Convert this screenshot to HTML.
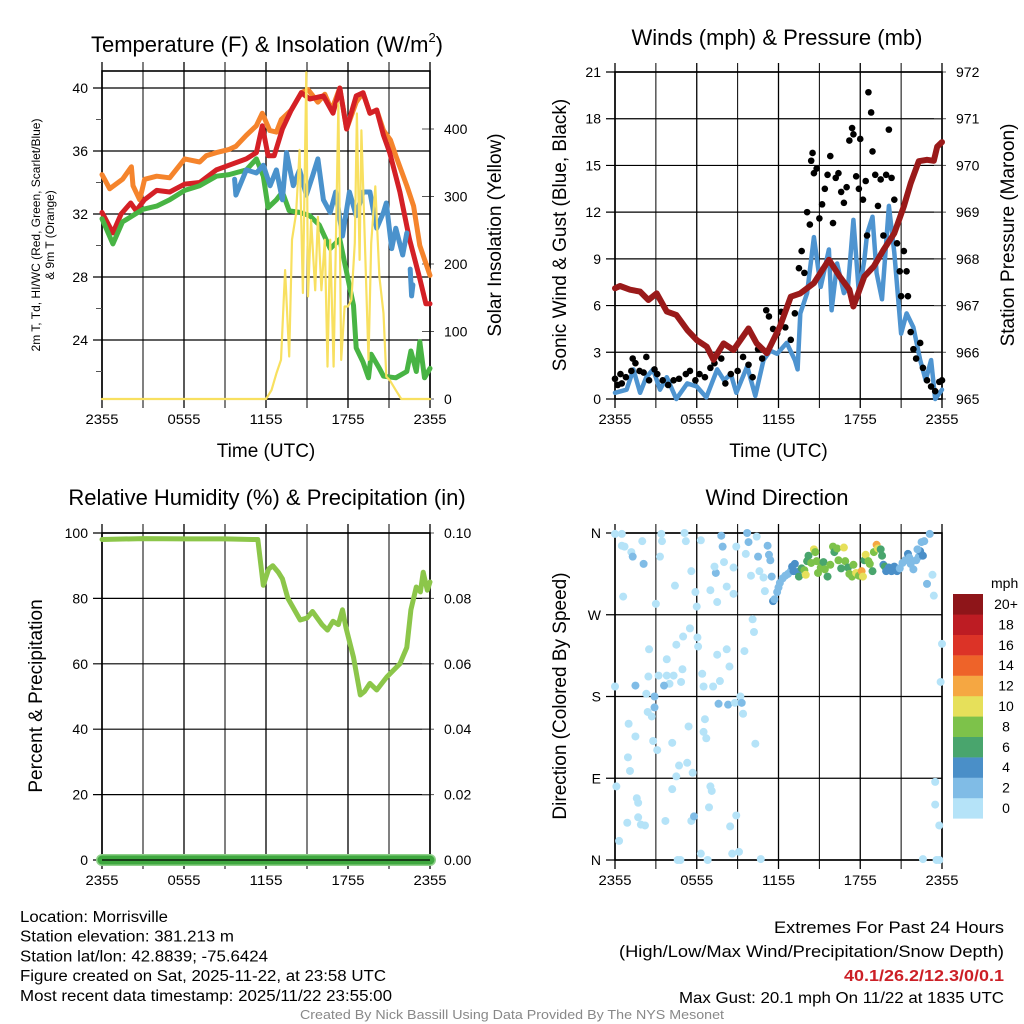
<!DOCTYPE html>
<html><head><meta charset="utf-8"><style>
html,body{margin:0;padding:0;background:#fff;}
svg{display:block;font-family:"Liberation Sans",sans-serif;}
</style></head><body>
<svg id="c" width="1024" height="1024" viewBox="0 0 1024 1024" xmlns="http://www.w3.org/2000/svg"></svg>
<script>
// ---- data ----
const xTickLabels=["2355","0555","1155","1755","2355"];
const tempTicks=[24,28,32,36,40];
const insolTicks=[0,100,200,300,400];
const windTicks=[0,3,6,9,12,15,18,21];
const presTicks=[965,966,967,968,969,970,971,972];
const rhTicks=[0,20,40,60,80,100];
const precTickLabels=["0.00","0.02","0.04","0.06","0.08","0.10"];
const dirTickLabels=["N","E","S","W","N"];
const dirTicks=[0,90,180,270,360];
const speedBinLabels=["0","2","4","6","8","10","12","14","16","18","20+"];
const speedColors=["#b5e3f8","#80bce6","#4a8fc8","#49a56d","#7dc24a","#e6e05a","#f5a742","#ee6329","#dc3327","#bd1c23","#8e1519"];

const orangeH=[0,0.56,1.5,2.15,2.27,2.76,3.12,4,4.95,6.05,7.15,7.63,8.37,9.3,9.8,10.56,11.29,11.73,12.27,12.76,13.12,13.85,14.58,15.07,15.8,16.3,16.8,17.4,17.9,18.6,19.1,19.6,20.1,20.6,21.1,21.5,22.3,22.8,23.25,24];
const orangeV=[34.5,33.6,34.2,35,33.8,32.9,34.2,34.4,34.3,35.5,35.3,35.7,35.9,36.1,36.3,37,37.6,38.4,37.3,37.2,38,38.6,39.7,39.9,39.1,39.6,38.6,40,37.4,39.1,39.7,38.4,38.6,37.3,36.7,35.7,33.8,32.5,30,28.1];
const redH=[0,0.8,1.4,2.1,2.5,3.1,4,4.95,6.05,7.15,8.37,9.3,10.56,11.3,11.73,12.15,12.6,13.2,13.85,14.58,15.2,16.2,16.9,17.4,17.9,18.6,19.1,19.6,20.1,20.6,21.05,21.8,22.5,23.25,23.7,24];
const redV=[32.1,30.8,32,32.7,32.2,32.9,33.5,33.4,33.9,34,34.8,35.1,35.5,35.9,37.6,35.7,35.7,37.4,38.6,39.7,39.3,39.5,38.4,40,37.4,39.5,39.7,38.4,38.6,37,35.9,33.4,30.4,27.9,26.3,26.3];
const greenH=[0,0.8,1.5,3,4,4.95,6.05,7.15,8.37,9.3,10.56,11.3,11.8,12.15,12.76,13.2,13.7,14.46,15.2,15.9,16.7,17.4,17.9,18.4,18.6,19.1,19.5,19.7,20.3,20.6,21.5,22.3,22.6,23,23.25,23.6,24];
const greenV=[31.7,30.1,31.5,32.3,32.5,32.9,33.5,33.8,34.4,34.5,34.8,35.5,34.4,32.4,32.9,33.4,32.2,32.1,31.9,31.3,29.8,30.4,28.3,26.2,23.5,22.6,21.6,23.1,22.2,21.7,21.6,22,23.3,22,23.9,21.6,22.2];
const blueTH=[9.7,9.8,10.56,11.3,11.8,12.3,12.76,13.2,13.5,14,14.46,14.95,15.4,15.8,16.2,16.7,17.1,17.6,18.1,18.6,19.1,19.6,20.1,20.6,20.8,21.2,21.5,22,22.3];
const blueTV=[34.2,33.2,34.8,34.6,35.1,33.8,34.8,32.9,35.9,33.8,34.8,33.2,34.4,35.5,32.9,32.1,33.4,30.6,33.4,31.9,33.4,33.4,31.1,32.1,32.7,29.8,31.1,29.4,30.8];
const blueT2H=[22.55,22.65,22.75];
const blueT2V=[28.5,26.8,27.5];
const solarH=[0,12,12.4,12.76,13.1,13.4,13.7,13.9,14.2,14.46,14.7,14.95,15.07,15.3,15.6,15.8,16.05,16.3,16.5,16.7,16.95,17.3,17.5,17.75,18,18.25,18.5,18.65,18.85,18.98,19.2,19.5,19.7,20,20.3,20.6,20.8,21.05,21.5,21.9,24];
const solarV=[0,0,13,38,58,191,63,236,275,369,157,484,152,265,161,270,161,236,48,236,48,438,58,137,137,147,231,423,206,398,255,58,231,315,181,127,33,28,13,0,0];

const presH=[0,0.37,1.1,1.84,2.45,3.06,3.8,4.5,5.3,6,6.74,7.23,7.97,8.7,9.8,10.4,11.15,12.1,12.9,13.6,14.6,15.7,16.5,17.2,17.5,18.3,19,19.7,20.5,21.2,21.7,22.3,22.9,23.4,23.65,24];
const presV=[967.37,967.42,967.34,967.3,967.12,967.26,966.87,966.8,966.48,966.26,966.12,965.84,966.19,966.05,966.51,966.19,965.98,966.55,967.19,967.26,967.48,967.98,967.62,967.34,966.98,967.62,967.84,968.19,968.55,969.12,969.62,970.09,970.12,970.1,970.4,970.5];
const windH=[0,0.85,1.35,1.84,2.3,2.8,3.3,3.8,4.5,5.3,6,6.7,7.5,8,8.5,8.9,9.7,10.3,10.9,11.4,11.9,12.6,13.2,13.4,13.6,14.1,14.6,15.1,15.7,15.9,16.3,16.8,17.1,17.5,17.9,18.3,18.5,18.9,19.2,19.6,20.1,20.5,21,21.4,21.9,22.4,22.8,23.2,23.5,24];
const windV=[0.4,0.6,1.9,0.4,1.4,1.9,0.6,1.4,0,1,0.8,0.1,1.9,1.2,1.6,0.4,2.1,0.2,2.5,3.1,2.9,3.6,2.5,1.9,5.5,6.8,10.4,7.2,9.6,5.7,8.7,6.8,7.2,11.5,6.8,8.9,10.6,11.7,8.1,6.4,12.4,9.4,4.2,5.5,4.6,2.5,1.2,2.5,0,0.6];
const gustH=[0,0.2,0.4,0.5,0.8,1.2,1.3,1.5,1.8,2.1,2.3,2.5,2.9,3.1,3.5,3.9,4.3,4.7,5.2,5.5,5.9,6.2,6.6,7,7.3,7.8,8.1,8.5,9,9.4,9.8,10.1,10.5,10.8,11.1,11.3,11.6,11.9,12.2,12.5,12.9,13.2,13.5,13.7,13.9,14.1,14.3,14.4,14.5,14.6,14.8,15,15.2,15.4,15.6,15.8,16,16.2,16.4,16.6,16.8,17,17.2,17.4,17.5,17.7,17.9,18,18.2,18.4,18.5,18.6,18.8,18.9,19.1,19.3,19.5,19.7,19.9,20.1,20.3,20.5,20.7,20.9,21,21.2,21.4,21.5,21.7,21.9,22.1,22.4,22.6,22.9,23.2,23.5,23.8,24];
const gustV=[1.3,0.9,1.6,1,1.4,1.8,2.6,2.3,1.8,1.7,2.7,1.2,1.9,1.6,1.2,0.9,1.2,1.3,1.6,1.8,1.2,1.6,1.4,2,2.3,2.6,1,1.6,1.8,2.7,2.2,1.4,3.2,2.6,5.7,5.3,4.5,4.2,5.6,4.6,3.8,5.5,8.4,9.5,8.1,12,11.2,15.3,15.8,14.5,14.8,11.6,12.5,13.5,14.4,15.6,11.3,14.2,14.5,13.3,12.6,13.6,16.6,17.4,17,14.3,13.5,16.7,12.8,14,10.5,19.7,18.4,15.9,14.4,12.4,14.1,10.5,14.4,17.3,14.2,12.8,10,8.2,6.6,9.5,8.2,6.6,4.3,3.2,2.6,3.6,2,1.2,0.8,0.5,1.1,1.2];

const rhH=[0,3,6,9,11,11.4,11.8,12.2,12.5,12.9,13.2,13.6,14.5,15,15.4,16.1,16.5,16.9,17.3,17.6,17.85,18.4,18.9,19.2,19.6,20.1,20.85,21.8,22.3,22.6,23,23.3,23.5,23.8,24];
const rhV=[98,98.3,98.2,98.2,98,98,84,89,90,88,86,80,73.4,74,76,72,70.3,73,72,76.5,71,62,50.5,51.5,54,52,56,60,65,76.5,83.5,82,88,82.5,85];
const precH=[0,24];
const precV=[0,0];

const dirH=[0,0.5,0.5,0.7,1.2,1.3,2.1,2,0.6,3,3.3,3.4,3.45,4.4,5.1,5.2,5.6,5.9,6,6.3,7,7.4,7.3,7.5,7.8,7.9,8,8.2,8.7,8.7,8.9,9.7,9.8,9.6,9.98,10.4,10.5,10.6,10.9,11,11.2,11.3,11.4,11.5,11.6,
10.1,10.2,9.5,8.4,8.2,7.5,7.7,7.2,6.5,6.4,6.1,6.05,5.5,5,4.95,4.85,4.5,4.3,4,3.8,3.8,3.2,3.6,2.5,2.45,2.3,1.5,0,2.9,2.9,2.4,2.7,1,1.5,2.8,3.1,4.2,5.4,6.6,6.5,6.7,7.6,8.3,8.8,9.2,9.3,9.4,10.3,0.95,1.1,0.1,1.6,1.7,1.7,1.9,2.2,0.9,0.3,3.7,4.2,4.5,4.7,5.3,5.7,5.6,5.8,4.6,4.8,6.3,6.8,6.9,7,7.1,8.45,8.6,8.9,9.1,10.7,
22.6,23.6,23.8,23.8,23.5,23.5,24,23.9,23.4,23.3,22.9,23.1,22.7,22.5,
11.7,11.9,12,12.1,12.3,12.5,12.7,12.9,13.1,13,13.2,13.4,13.5,13.7,13.9,14,14.1,14.2,14.4,14.6,14.7,14.8,14.9,15.1,15.3,15.4,15.6,15.8,16,16.1,16.3,16.4,16.6,16.8,16.9,17.1,17.2,17.4,17.5,17.7,17.9,18.1,18.2,18.3,18.4,18.6,18.7,18.9,19,19.2,19.3,19.5,19.6,19.7,19.8,19.9,20.1,20.3,20.5,20.7,20.9,21.1,21.3,21.5,21.6,21.7,21.9,22.1,22.3,22.4,22.6,22.2];
const dirV=[359,359,346,345,339,334,326,351,290,282,334,359,351,302,360,351,318,295,279,352,297,316,323,284,357,345,328,301,322,293,345,360,350,337,313,356,334,318,311,296,346,336,330,312,285,
265,251,230,213,232,226,197,191,191,205,235,245,255,246,210,196,237,203,194,221,203,203,192,232,202,183,192,191,180,168,163,158,150,136,131,121,129,147,155,141,134,172,171,173,180,173,161,128,113,98,81,68,63,47,39,38,41,21,43,78,92,104,107,96,43,48,0,0,7,0,58,81,76,37,7,49,9,1,
1,0,0,38,61,86,238,196,291,314,304,359,351,350,
287,295,300,305,310,313,315,318,318,323,326,317,312,321,319,314,329,335,327,342,339,329,316,322,328,320,312,325,345,339,343,330,321,344,329,322,315,312,325,316,313,318,312,330,336,329,326,318,339,347,343,342,335,325,323,318,322,318,323,318,321,327,330,337,333,326,320,330,334,340,335,342];
const dirS=[1,1,1,1,1,3,3,1,1,1,1,1,1,1,1,1,1,1,1,1,1,3,1,1,2,3,1,1,1,1,1,3,3,1,1,1,3,1,1,1,3,3,3,3,4,
1,1,1,1,1,1,1,1,1,1,1,1,1,1,1,1,1,1,1,1,1,1,3,1,1,1,3,1,3,3,1,1,1,1,1,1,1,1,1,1,1,3,3,1,1,3,1,1,1,1,1,1,1,1,1,1,1,1,1,1,1,1,1,1,1,3,1,1,1,1,1,1,1,1,1,1,1,1,
1,1,1,1,1,1,1,1,1,1,3,3,3,3,
3,3,3,3,3,3,3,3,4,5,4,5,7,7,9,10,7,7,9,10,9,8,8,9,7,8,7,9,8,7,8,8,7,10,9,6,8,9,8,10,8,12,10,7,10,8,9,7,9,12,10,7,6,5,6,4,5,4,4,4,3,3,3,4,3,3,3,3,3,4,5,3];

// ---- helpers ----
const NS="http://www.w3.org/2000/svg";
const svg=document.getElementById('c');
function el(tag,attrs,parent,text){const e=document.createElementNS(NS,tag);for(const k in attrs)e.setAttribute(k,attrs[k]);if(text!==undefined)e.textContent=text;(parent||svg).appendChild(e);return e;}
function lin(d0,d1,r0,r1){return v=>r0+(v-d0)*(r1-r0)/(d1-d0);}
function pathFrom(hs,vs,sx,sy){return hs.map((h,i)=>(i?'L':'M')+sx(h).toFixed(1)+','+sy(vs[i]).toFixed(1)).join('');}
const FONT='"Liberation Sans",sans-serif';

function panel(name,L,R,T,B,yTicksPix,yLabels,rTicksPix,rLabels,xLbl){
  const g=el('g',{});
  
  
  const sx=lin(0,24,L,R);
  for(let h=0;h<=24;h+=3){const x=sx(h);const l=el('line',{x1:x,x2:x,y1:T-9,y2:B+9,stroke:'#000','stroke-width':(h%6===0?1.3:1)},g);
    
    }
  yTicksPix.forEach((y,i)=>{const l=el('line',{x1:L-9,x2:R,y1:y,y2:y,stroke:'#000','stroke-width':1.2},g);
    
    
    const t=el('text',{x:L-14,y:y+5,'text-anchor':'end','font-size':14,'font-family':FONT},g,yLabels[i]);
    
    });
  rTicksPix.forEach((y,i)=>{el('line',{x1:R-8,x2:R+4,y1:y,y2:y,stroke:'#555','stroke-width':1},g);
    const t=el('text',{x:R+14,y:y+5,'font-size':14,'font-family':FONT},g,rLabels[i]);
    
    });
  xTickLabels.forEach((s,i)=>{const t=el('text',{x:sx(i*6),y:B+25,'text-anchor':'middle','font-size':14,'font-family':FONT,'textLength':33,'lengthAdjust':'spacingAndGlyphs'},g,s);
    
    });
  const fr=el('rect',{x:L,y:T,width:R-L,height:B-T,fill:'none',stroke:'#000','stroke-width':1.6},g);
  
  
  if(xLbl){const t=el('text',{x:(L+R)/2,y:B+58,'text-anchor':'middle','font-size':19,'font-family':FONT},g,'Time (UTC)');
    
    }
  return {g,sx};
}
function title(x,y,txt,nm){const t=el('text',{x:x,y:y,'text-anchor':'middle','font-size':22,'font-family':FONT},svg,txt);
  
  return t;}
function vtitle(x,y,txt,nm,fs){const t=el('text',{x:0,y:0,'text-anchor':'middle','font-size':fs||19,'font-family':FONT,transform:`translate(${x},${y}) rotate(-90)`},svg,txt);
  
  return t;}
function line(g,hs,vs,sx,sy,color,w,nm){const p=el('path',{d:pathFrom(hs,vs,sx,sy),fill:'none',stroke:color,'stroke-width':w,'stroke-linejoin':'round','stroke-linecap':'round'},g);
  
  return p;}

// ---- Panel 1: temperature ----
{const L=102,R=430,T=71,B=399;
 const sy=lin(40,24,88,340), sr=lin(0,400,399,129);
 const P=panel('temperature-panel',L,R,T,B,tempTicks.map(sy),tempTicks.map(String),insolTicks.map(sr),insolTicks.map(String),true);
 for(let v=22;v<=40;v+=2){if(v%4)el('line',{x1:L-6,x2:L,y1:sy(v),y2:sy(v),stroke:'#555'},P.g);}
 line(P.g,orangeH,orangeV,P.sx,sy,'#f5842c',5,'orange-9m-temp-line');
 line(P.g,redH,redV,P.sx,sy,'#d42026',5,'red-2m-temp-line');
 line(P.g,greenH,greenV,P.sx,sy,'#48b444',5,'green-dewpoint-line');
 line(P.g,blueTH,blueTV,P.sx,sy,'#4a92cc',5,'blue-windchill-line');
 line(P.g,blueT2H,blueT2V,P.sx,sy,'#4a92cc',5,'blue-windchill-line-2');
 line(P.g,solarH,solarV,P.sx,sr,'#f8e060',2.2,'yellow-insolation-line');
 const tt=title(267,52,'Temperature (F) & Insolation (W/m','temperature-title');
 const sup=el('tspan',{'font-size':13,dy:-10},tt,'2');
 const cp=el('tspan',{dy:10},tt,')');
 vtitle(40,235,'2m T, Td, HI/WC (Red, Green, Scarlet/Blue)','temperature-y-title-1',12);
 vtitle(54,235,'& 9m T (Orange)','temperature-y-title-2',12);
 vtitle(501,235,'Solar Insolation (Yellow)','insolation-y-title');
}
// ---- Panel 2: winds ----
{const L=615,R=942,T=72,B=399;
 const sy=lin(0,21,399,72), sr=lin(965,972,399,72);
 const P=panel('winds-panel',L,R,T,B,windTicks.map(sy),windTicks.map(String),presTicks.map(sr),presTicks.map(String),true);
 line(P.g,windH,windV,P.sx,sy,'#4e94d0',4.5,'sonic-wind-line');
 gustH.forEach((h,i)=>{const c=el('circle',{cx:P.sx(h),cy:sy(gustV[i]),r:3.3,fill:'#000'},P.g);
   
   });
 line(P.g,presH,presV,P.sx,sr,'#9a1a1a',6,'pressure-line');
 title(777,45,'Winds (mph) & Pressure (mb)','winds-title');
 vtitle(566,235,'Sonic Wind & Gust (Blue, Black)','wind-y-title');
 vtitle(1014,235,'Station Pressure (Maroon)','pressure-y-title');
}
// ---- Panel 3: RH ----
{const L=102,R=430,T=533,B=860;
 const sy=lin(0,100,860,533), sp=lin(0,0.1,860,533);
 const P=panel('humidity-panel',L,R,T,B,rhTicks.map(sy),rhTicks.map(String),precTickLabels.map(s=>sp(parseFloat(s))),precTickLabels,false);
 line(P.g,rhH,rhV,P.sx,sy,'#8cc64a',5,'rh-line');
 line(P.g,precH,precV,P.sx,sp,'#8fd08a',12,'precip-line-outline');
 line(P.g,precH,precV,P.sx,sp,'#3fa83f',9,'precip-line');
 el('line',{x1:L,x2:R,y1:B,y2:B,stroke:'#000','stroke-width':1.2},P.g);
 title(267,505,'Relative Humidity (%) & Precipitation (in)','humidity-title');
 vtitle(42,696,'Percent & Precipitation','humidity-y-title');
}
// ---- Panel 4: wind direction ----
{const L=615,R=942,T=533,B=860;
 const sy=lin(0,360,860,533);
 const P=panel('wind-direction-panel',L,R,T,B,dirTicks.map(sy),dirTickLabels,[],[],false);
 dirH.forEach((h,i)=>{const b=Math.min(10,Math.floor(dirS[i]/2));
   const c=el('circle',{cx:P.sx(h),cy:sy(dirV[i]),r:4,fill:speedColors[b]},P.g);
   
   });
 title(777,505,'Wind Direction','direction-title');
 vtitle(566,696,'Direction (Colored By Speed)','direction-y-title');
 const cb=el('g',{});
 
 
 const t=el('text',{x:991,y:588,'font-size':14,'font-family':FONT},cb,'mph');
 
 
 speedColors.forEach((c,i)=>{const y=594+(10-i)*20.4;
   const r=el('rect',{x:953,y:y,width:30,height:20.6,fill:c},cb);
   
   
   const tl=el('text',{x:1006,y:y+15,'text-anchor':'middle','font-size':14,'font-family':FONT},cb,speedBinLabels[i]);
   
   });
}
// ---- footer ----
const leftLines=["Location: Morrisville","Station elevation: 381.213 m","Station lat/lon: 42.8839; -75.6424","Figure created on Sat, 2025-11-22, at 23:58 UTC","Most recent data timestamp: 2025/11/22 23:55:00"];
const leftW=[148,214,248,366,372];
leftLines.forEach((s,i)=>{const t=el('text',{x:20,y:922+i*19.7,'font-size':15.5,'font-family':FONT,textLength:leftW[i],lengthAdjust:'spacingAndGlyphs'},svg,s);
  
  });
const rightLines=["Extremes For Past 24 Hours","(High/Low/Max Wind/Precipitation/Snow Depth)","40.1/26.2/12.3/0/0.1","Max Gust: 20.1 mph On 11/22 at 1835 UTC"];
const rightY=[933,957,981,1003], rightW=[230,385,160,325];
rightLines.forEach((s,i)=>{const t=el('text',{x:1004,y:rightY[i],'text-anchor':'end','font-size':i<2?17:16,'font-family':FONT,textLength:rightW[i],lengthAdjust:'spacingAndGlyphs',fill:i===2?'#cc1f26':'#000','font-weight':i===2?'bold':'normal'},svg,s);
  
  });
const cr=el('text',{x:512,y:1019,'text-anchor':'middle','font-size':13,'font-family':FONT,fill:'#888',textLength:424,lengthAdjust:'spacingAndGlyphs'},svg,'Created By Nick Bassill Using Data Provided By The NYS Mesonet');


</script>
</body></html>
